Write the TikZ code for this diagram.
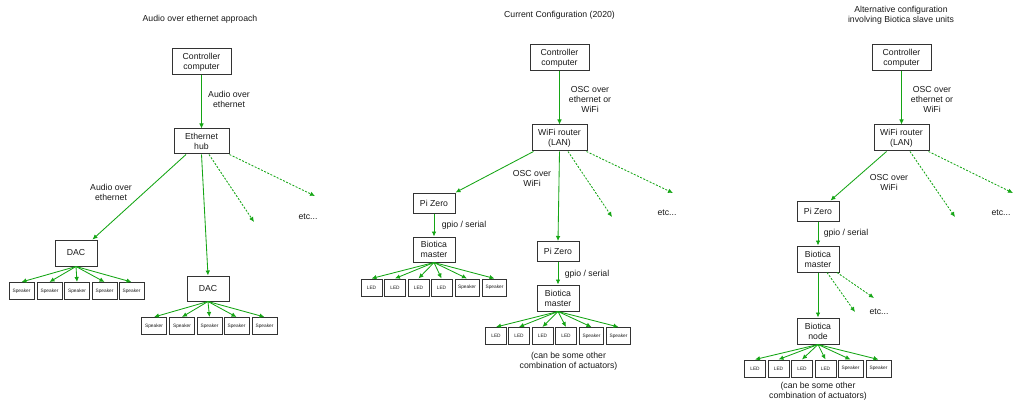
\documentclass[tikz,border=0pt]{standalone}
\usepackage{fontspec}
\setmainfont{Liberation Sans}
\usetikzlibrary{arrows.meta}
\definecolor{linkgreen}{RGB}{20,165,20}
\tikzset{
	unit/.style={draw=black!80, line width=1pt, align=center, inner sep=0pt, text=black!90, font=\fontsize{8.7}{10}\selectfont},
	act/.style={draw=black!80, line width=1pt, inner sep=0pt, minimum height=17pt, text=black!90, font=\fontsize{4.8}{5}\selectfont},
	lbl/.style={align=center, inner sep=0pt, text=black!90, font=\fontsize{8.7}{10}\selectfont},
	link/.style={draw=linkgreen, line width=0.85pt, -{Latex[length=5pt,width=4.6pt]}},
	morelink/.style={link, dash pattern=on 2pt off 1.5pt}
}
\begin{document}
\begin{tikzpicture}[x=1pt, y=-1pt]
			%%%%% START %%%%%
			\useasboundingbox (0,0) rectangle (1015,401);
			
			%%%%% audio over ethernet %%%%%
			\node[lbl] (t1) at (200,19) {Audio over ethernet approach};
			\node[unit, minimum width=59pt, minimum height=26pt] (cc1) at (201.5,62) {Controller\\computer};
			\node[unit, minimum width=55pt, minimum height=25pt] (hub) at (201.5,141.5) {Ethernet\\hub};
			\node[unit, minimum width=42pt, minimum height=26pt] (dac1) at (76,253) {DAC};
			\node[unit, minimum width=42pt, minimum height=25pt] (dac2) at (208,288.5) {DAC};
			\node[lbl] (l1) at (229,99) {Audio over\\ethernet};
			\node[lbl] (l2) at (111,192) {Audio over\\ethernet};
			\node[lbl] (etc1) at (308,217) {etc...};
			\coordinate (e11) at (254,222);
			\coordinate (e12) at (315,196);
			
			\node[act, minimum width=25pt] (s11) at (21.5,291) {Speaker};
			\node[act, minimum width=25pt] (s12) at (49.5,291) {Speaker};
			\node[act, minimum width=25pt] (s13) at (77,291) {Speaker};
			\node[act, minimum width=25pt] (s14) at (104.5,291) {Speaker};
			\node[act, minimum width=25pt] (s15) at (131.5,291) {Speaker};
			
			\node[act, minimum width=25pt] (s21) at (154,326) {Speaker};
			\node[act, minimum width=25pt] (s22) at (182,326) {Speaker};
			\node[act, minimum width=25pt] (s23) at (209.5,326) {Speaker};
			\node[act, minimum width=25pt] (s24) at (236.5,326) {Speaker};
			\node[act, minimum width=25pt] (s25) at (264.5,326) {Speaker};
			
			\draw[link] (cc1) -- (hub);
			\draw[link] ([xshift=-15.5pt]hub.south) -- ([xshift=-5pt]dac1.north east);
			\draw[link] (hub.south) -- (dac2.north);
			\draw[morelink] ([xshift=7.5pt]hub.south) -- (e11);
			\draw[morelink] (hub.south east) -- (e12);
			
			\draw[link] (dac1.south) -- (s11.north);
			\draw[link] (dac1.south) -- (s12.north);
			\draw[link] (dac1.south) -- (s13.north);
			\draw[link] (dac1.south) -- (s14.north);
			\draw[link] (dac1.south) -- (s15.north);
			
			\draw[link] (dac2.south) -- (s21.north);
			\draw[link] (dac2.south) -- (s22.north);
			\draw[link] (dac2.south) -- (s23.north);
			\draw[link] (dac2.south) -- (s24.north);
			\draw[link] (dac2.south) -- (s25.north);
			
			%%%%% current configuration %%%%%
			\node[lbl] (t2) at (559.5,15) {Current Configuration (2020)};
			\node[unit, minimum width=59pt, minimum height=26pt] (cc2) at (559.5,58) {Controller\\computer};
			\node[unit, minimum width=55pt, minimum height=26pt] (wifi2) at (559.5,138) {WiFi router\\(LAN)};
			\node[unit, minimum width=42pt, minimum height=20pt] (pi21) at (434,203) {Pi Zero};
			\node[unit, minimum width=42pt, minimum height=25pt] (bm21) at (434,249.5) {Biotica\\master};
			\node[unit, minimum width=42pt, minimum height=20pt] (pi22) at (558,251.5) {Pi Zero};
			\node[unit, minimum width=42pt, minimum height=26pt] (bm22) at (558,298) {Biotica\\master};
			\node[lbl] (l3) at (590,99) {OSC over\\ethernet or\\WiFi};
			\node[lbl] (l4) at (532,178) {OSC over\\WiFi};
			\node[lbl] (l5) at (464,225) {gpio / serial};
			\node[lbl] (l6) at (587,274) {gpio / serial};
			\node[lbl] (etc2) at (667,213) {etc...};
			\node[lbl] (c2) at (568.5,361) {(can be some other\\combination of actuators)};
			\coordinate (e21) at (612,217);
			\coordinate (e22) at (673,193);
			
			\node[act, minimum width=21pt] (a11) at (371.5,287.5) {LED};
			\node[act, minimum width=21pt] (a12) at (395,287.5) {LED};
			\node[act, minimum width=21pt] (a13) at (418.5,287.5) {LED};
			\node[act, minimum width=21pt] (a14) at (441.5,287.5) {LED};
			\node[act, minimum width=24pt] (a15) at (467,287.5) {Speaker};
			\node[act, minimum width=24pt] (a16) at (494.5,287.5) {Speaker};
			
			\node[act, minimum width=21pt] (a21) at (496,336) {LED};
			\node[act, minimum width=21pt] (a22) at (519,336) {LED};
			\node[act, minimum width=21pt] (a23) at (542.5,336) {LED};
			\node[act, minimum width=21pt] (a24) at (566,336) {LED};
			\node[act, minimum width=24pt] (a25) at (591.5,336) {Speaker};
			\node[act, minimum width=24pt] (a26) at (618.5,336) {Speaker};
			
			\draw[link] (cc2) -- (wifi2);
			\draw[link] ([xshift=2pt]wifi2.south west) -- (pi21.north east);
			\draw[link] (wifi2.south) -- (pi22.north);
			\draw[morelink] ([xshift=8.5pt]wifi2.south) -- (e21);
			\draw[morelink] ([xshift=-1pt]wifi2.south east) -- (e22);
			\draw[link] (pi21) -- (bm21);
			\draw[link] (pi22) -- (bm22);
			
			\draw[link] (bm21.south) -- (a11.north);
			\draw[link] (bm21.south) -- (a12.north);
			\draw[link] (bm21.south) -- (a13.north);
			\draw[link] (bm21.south) -- (a14.north);
			\draw[link] (bm21.south) -- (a15.north);
			\draw[link] (bm21.south) -- (a16.north);
			
			\draw[link] (bm22.south) -- (a21.north);
			\draw[link] (bm22.south) -- (a22.north);
			\draw[link] (bm22.south) -- (a23.north);
			\draw[link] (bm22.south) -- (a24.north);
			\draw[link] (bm22.south) -- (a25.north);
			\draw[link] (bm22.south) -- (a26.north);
			
			%%%%% alternative configuration %%%%%
			\node[lbl] (t3) at (901,15) {Alternative configuration\\involving Biotica slave units};
			\node[unit, minimum width=59pt, minimum height=26pt] (cc3) at (901.5,58) {Controller\\computer};
			\node[unit, minimum width=55pt, minimum height=26pt] (wifi3) at (901.5,138) {WiFi router\\(LAN)};
			\node[unit, minimum width=42pt, minimum height=20pt] (pi3) at (818,211) {Pi Zero};
			\node[unit, minimum width=42pt, minimum height=26pt] (bm3) at (818,259) {Biotica\\master};
			\node[unit, minimum width=42pt, minimum height=26pt] (bn3) at (818,331) {Biotica\\node};
			\node[lbl] (l7) at (932,99) {OSC over\\ethernet or\\WiFi};
			\node[lbl] (l8) at (889,182) {OSC over\\WiFi};
			\node[lbl] (l9) at (846,233) {gpio / serial};
			\node[lbl] (etc3) at (1001,213) {etc...};
			\node[lbl] (etc4) at (879,312) {etc...};
			\node[lbl] (c3) at (818,391) {(can be some other\\combination of actuators)};
			\coordinate (e31) at (955,217);
			\coordinate (e32) at (1013,193);
			\coordinate (e33) at (855,312);
			\coordinate (e34) at (874,298);
			
			\node[act, minimum width=21pt] (a31) at (755,368.5) {LED};
			\node[act, minimum width=21pt] (a32) at (778.5,368.5) {LED};
			\node[act, minimum width=21pt] (a33) at (802,368.5) {LED};
			\node[act, minimum width=21pt] (a34) at (825.5,368.5) {LED};
			\node[act, minimum width=25pt] (a35) at (850.5,368.5) {Speaker};
			\node[act, minimum width=25pt] (a36) at (878.5,368.5) {Speaker};
			
			\draw[link] (cc3) -- (wifi3);
			\draw[link] ([xshift=13pt]wifi3.south west) -- ([xshift=-9pt]pi3.north east);
			\draw[morelink] ([xshift=8.5pt]wifi3.south) -- (e31);
			\draw[morelink] ([xshift=-1pt]wifi3.south east) -- (e32);
			\draw[link] (pi3) -- (bm3);
			\draw[link] (bm3) -- (bn3);
			\draw[morelink] ([xshift=9pt]bm3.south) -- (e33);
			\draw[morelink] ([xshift=19pt]bm3.south) -- (e34);
			
			\draw[link] (bn3.south) -- (a31.north);
			\draw[link] (bn3.south) -- (a32.north);
			\draw[link] (bn3.south) -- (a33.north);
			\draw[link] (bn3.south) -- (a34.north);
			\draw[link] (bn3.south) -- (a35.north);
			\draw[link] (bn3.south) -- (a36.north);
			
			%%%%% END %%%%%
\end{tikzpicture}
\end{document}
